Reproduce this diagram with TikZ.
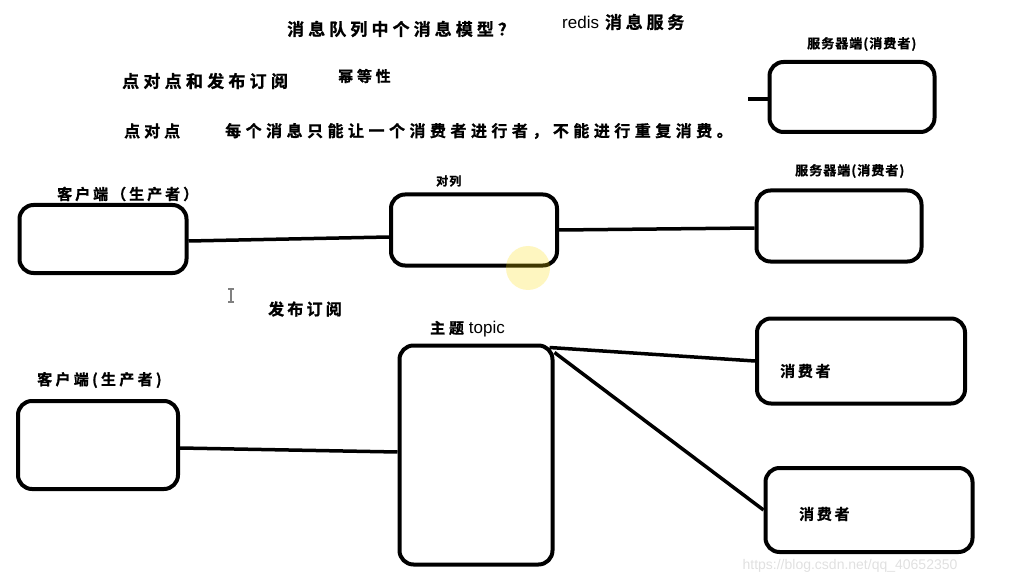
\documentclass[tikz,border=0pt]{standalone}
\usepackage{fontspec}
\newfontfamily\cjk[FakeBold=1]{Noto Sans CJK SC Bold}
\newfontfamily\lat{Liberation Sans}
\newcommand{\hw}[2]{\cjk\fontsize{#1}{#1}\selectfont\addfontfeature{LetterSpace=#2}}
\begin{document}
\begin{tikzpicture}[x=1pt,y=-1pt,
  box/.style={draw=black,line width=4pt,rounded corners=14pt,fill=white,inner sep=0pt},
  conn/.style={draw=black,line width=3.5pt},
  txt/.style={inner sep=0pt}]
\useasboundingbox (0,0) rectangle (1019,585);
% titles
\node[txt,font=\hw{17}{24},anchor=west] (t1) at (287,29) {消息队列中个消息模型？};
\node[txt,anchor=west] (t2) at (562,22) {{\lat\fontsize{17}{18}\selectfont redis}\hspace{6pt}{\hw{17}{22}消息服务}};
\node[txt,font=\hw{17}{25},anchor=west] (t3) at (122,81) {点对点和发布订阅};
\node[txt,font=\hw{15}{25},anchor=west] (t4) at (338,76) {幂等性};
\node[txt,font=\hw{16}{25},anchor=west] (t5) at (124,131) {点对点};
\node[txt,font=\hw{16}{28},anchor=west] (t6) at (225,131) {每个消息只能让一个消费者进行者，不能进行重复消费。};
% top-right server
\node[txt,font=\hw{13}{8},anchor=west] (s0l) at (807,44) {服务器端(消费者)};
\node[box,minimum width=165pt,minimum height=70pt] (s0) at (852,97) {};
\coordinate (s0in) at (748,99);
\draw[conn] (s0in) -- ([yshift=-2pt]s0.west);
% point-to-point row
\node[txt,font=\hw{15}{20},anchor=west] (c1l) at (57,194) {客户端（生产者）};
\node[box,minimum width=167pt,minimum height=68pt] (c1) at (103,239) {};
\node[txt,font=\hw{12}{10},anchor=west] (ql) at (436,181) {对列};
\node[box,minimum width=166pt,minimum height=71pt] (q) at (474,230) {};
\node[txt,font=\hw{13}{8},anchor=west] (s1l) at (795,171) {服务器端(消费者)};
\node[box,minimum width=165pt,minimum height=71pt] (s1) at (839,226) {};
\draw[conn] ([yshift=-2pt]c1.east) -- ([yshift=-7pt]q.west);
\draw[conn] (q.east) -- ([yshift=-2pt]s1.west);
% cursor highlight
\fill[yellow!80!orange,opacity=0.25] (528,268) circle (22pt);
\draw[gray,line width=1.2pt] (231,289) -- (231,302) (228,289) -- (234,289) (228,302) -- (234,302);
% publish/subscribe
\node[txt,font=\hw{16}{20},anchor=west] (pl) at (268,309) {发布订阅};
\node[txt,anchor=west] (tl) at (430,329) {{\hw{15}{25}主题}\hspace{5pt}{\lat\fontsize{17}{18}\selectfont topic}};
\node[box,minimum width=153pt,minimum height=219pt] (tp) at (476,455) {};
\node[txt,font=\hw{15}{22},anchor=west] (c2l) at (37,380) {客户端(生产者)};
\node[box,minimum width=160pt,minimum height=88pt] (c2) at (98,445) {};
\draw[conn] ([yshift=-3pt]c2.east) -- ([yshift=3pt]tp.west);
\node[box,minimum width=208pt,minimum height=85pt] (k1) at (861,361) {};
\node[txt,font=\hw{15}{18},anchor=west] (k1t) at (780,371) {消费者};
\node[box,minimum width=207pt,minimum height=84pt] (k2) at (869,510) {};
\node[txt,font=\hw{15}{18},anchor=west] (k2t) at (799,514) {消费者};
\draw[conn] ([xshift=-5pt,yshift=-4pt]tp.north east) -- (k1.west);
\draw[conn] ([yshift=-9pt]tp.north east) -- (k2.west);
% watermark
\node[font=\lat\fontsize{14}{16}\selectfont,text=black!12,inner sep=0pt] (wm) at (850,566) {https://blog.csdn.net/qq\_40652350};
\end{tikzpicture}
\end{document}
